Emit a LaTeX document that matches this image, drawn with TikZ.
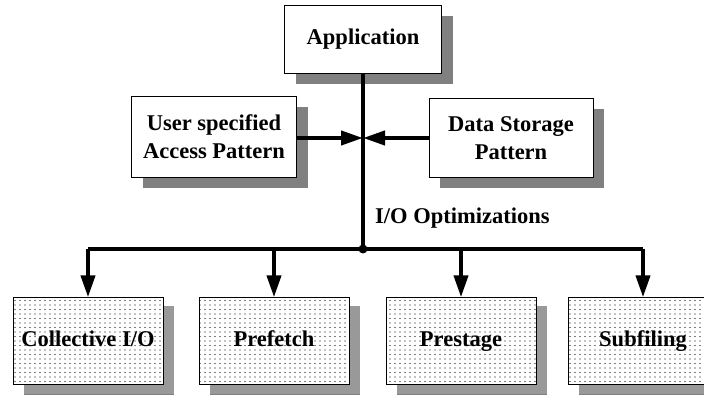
\documentclass[tikz,border=0pt]{standalone}
\usepackage{fontspec}
\setmainfont{Liberation Serif}
\usetikzlibrary{arrows.meta,shadows,patterns}

\pgfdeclarepatternformonly{sparse dots}{\pgfqpoint{-1pt}{-1pt}}{\pgfqpoint{1pt}{1pt}}{\pgfqpoint{5pt}{4.5pt}}%
{\pgfpathcircle{\pgfqpoint{0pt}{0pt}}{0.6pt}\pgfusepath{fill}}

\begin{document}
\begin{tikzpicture}[x=1pt,y=-1pt,
    box node/.style={draw,fill=white,font=\bfseries\fontsize{22.5}{28}\selectfont,align=center,
        inner sep=0pt,drop shadow={shadow xshift=11pt,shadow yshift=-11pt,fill=black!50,opacity=1}},
    pat node/.style={box node,minimum width=150pt,minimum height=87pt,text height=16pt,text depth=5pt,
        drop shadow={shadow xshift=11pt,shadow yshift=-9pt,fill=black!40,opacity=1},
        postaction={pattern=sparse dots,pattern color=black}},
    bus/.style={line width=4pt},
    tip/.style={-{Triangle[length=22pt,width=14pt]}}]
    \clip (0,0) rectangle (704,395);
    \fill[white] (0,0) rectangle (704,395);

    \node[box node,minimum width=157pt,minimum height=68pt] at (363,39) (app) {Application};
    \node[box node,minimum width=165pt,minimum height=81pt] at (214,137) (user) {User specified\\Access Pattern};
    \node[box node,minimum width=164pt,minimum height=79pt] at (511,138) (store) {Data Storage\\Pattern};

    \node[pat node] at (88,341) (coll) {Collective I/O};
    \node[pat node] at (274,341) (pref) {Prefetch};
    \node[pat node] at (461,341) (prest) {Prestage};
    \node[pat node] at (643,341) (sub) {Subfiling};

    \coordinate (meet) at (363,138);
    \coordinate (split) at (363,249);
    \node[anchor=west,inner sep=0pt,font=\bfseries\fontsize{22.5}{28}\selectfont] at (375,218) (opt) {I/O Optimizations};

    \draw[bus] (app.south) -- (split);
    \draw[bus] (coll.north |- split) -- (sub.north |- split);
    \fill (split) circle (4.5);
    \path[bus,tip]
        (user.east |- meet) edge (meet)
        (store.west |- meet) edge (meet)
        (coll.north |- split) edge (coll.north)
        (pref.north |- split) edge (pref.north)
        (prest.north |- split) edge (prest.north)
        (sub.north |- split) edge (sub.north)
        ;
\end{tikzpicture}
\end{document}
